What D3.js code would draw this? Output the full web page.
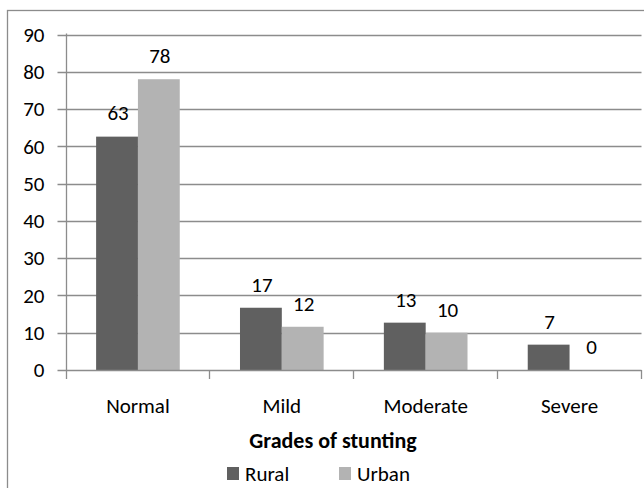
<!DOCTYPE html>
<html>
<head>
<meta charset="utf-8">
<script src="https://cdn.jsdelivr.net/npm/d3@7"></script>
<style>
  html, body { margin: 0; padding: 0; background: #fff; }
  svg { display: block; }
  text { font-family: Carlito, Calibri, Lato, sans-serif; fill: #000; }
</style>
</head>
<body>
<svg id="chart" width="644" height="488"></svg>
<script>
const categories = ["Normal", "Mild", "Moderate", "Severe"];
const seriesNames = ["Rural", "Urban"];
const ruralValues = [62.6, 16.7, 12.7, 6.8];
const urbanValues = [78, 11.6, 10, 0];
const ruralLabels = ["63", "17", "13", "7"];
const urbanLabels = ["78", "12", "10", "0"];
const yTicks = [0, 10, 20, 30, 40, 50, 60, 70, 80, 90];
const xTitle = "Grades of stunting";
const colors = { Rural: "#606060", Urban: "#b3b3b3" };

(function () {
const svg = d3.select("#chart");
const mLeft = 66, mRight = 641.5, mTop = 34.5, mBottom = 370;
const fs = 21;

// frame
svg.append("rect").attr("x", 7.5).attr("y", 10.5).attr("width", 700).attr("height", 600)
  .attr("fill", "none").attr("stroke", "#8c8c8c").attr("stroke-width", 1.3);

const y = d3.scaleLinear().domain([0, 90]).range([mBottom, mTop]);
const x0 = d3.scaleBand().domain(categories).range([mLeft, mRight]).padding(0);
const x1 = d3.scaleBand().domain(seriesNames).range([0, x0.bandwidth()]).paddingInner(0).paddingOuter(0.72);

// gridlines (with y-axis tick stubs)
svg.append("g").selectAll("line").data(yTicks.filter(t => t > 0)).join("line")
  .attr("x1", mLeft - 8.5).attr("x2", mRight)
  .attr("y1", d => Math.round(y(d)) + 0.5).attr("y2", d => Math.round(y(d)) + 0.5)
  .attr("stroke", "#8c8c8c").attr("stroke-width", 1.3);

// y axis via d3
const yAxis = d3.axisLeft(y).tickValues(yTicks).tickSize(0).tickPadding(22);
const gy = svg.append("g").attr("transform", `translate(${mLeft + 0.5},0)`).call(yAxis);
gy.select(".domain").remove();
gy.selectAll("text").attr("font-size", fs).attr("fill", "#000")
  .style("font-family", "Carlito, Calibri, Lato, sans-serif");

// bars
const data = categories.map((c, i) => ({
  cat: c,
  vals: [
    { s: "Rural", v: ruralValues[i], lab: ruralLabels[i] },
    { s: "Urban", v: urbanValues[i], lab: urbanLabels[i] }
  ]
}));
const groups = svg.append("g").selectAll("g").data(data).join("g")
  .attr("transform", d => `translate(${x0(d.cat)},0)`);
groups.selectAll("rect").data(d => d.vals).join("rect")
  .attr("x", d => x1(d.s)).attr("width", x1.bandwidth())
  .attr("y", d => y(d.v)).attr("height", d => mBottom - y(d.v))
  .attr("fill", d => colors[d.s]);
groups.selectAll("text").data(d => d.vals).join("text")
  .attr("x", d => x1(d.s) + x1.bandwidth() / 2 + 1)
  .attr("y", d => y(d.v) - 23.5)
  .attr("dy", "0.35em")
  .attr("text-anchor", "middle").attr("font-size", fs)
  .text(d => d.lab);

// y axis line
svg.append("line").attr("x1", mLeft + 0.5).attr("x2", mLeft + 0.5).attr("y1", mTop - 1).attr("y2", mBottom + 9)
  .attr("stroke", "#8c8c8c").attr("stroke-width", 1.3);
// x axis line
svg.append("line").attr("x1", mLeft - 8.5).attr("x2", mRight).attr("y1", mBottom + 0.5).attr("y2", mBottom + 0.5)
  .attr("stroke", "#8c8c8c").attr("stroke-width", 1.3);
// x category boundary ticks
const bounds = categories.map(c => x0(c) + x0.bandwidth());
svg.append("g").selectAll("line").data(bounds).join("line")
  .attr("x1", d => Math.round(d) - 0.5).attr("x2", d => Math.round(d) - 0.5)
  .attr("y1", mBottom).attr("y2", mBottom + 9)
  .attr("stroke", "#8c8c8c").attr("stroke-width", 1.3);

// category labels
svg.append("g").selectAll("text").data(categories).join("text")
  .attr("x", d => x0(d) + x0.bandwidth() / 2)
  .attr("y", 406).attr("dy", "0.35em")
  .attr("text-anchor", "middle").attr("font-size", fs)
  .text(d => d);

// axis title
svg.append("text").attr("x", 333).attr("y", 440).attr("dy", "0.35em")
  .attr("text-anchor", "middle").attr("font-size", 22).attr("font-weight", "bold")
  .text(xTitle);

// legend
const legendX = [227, 339];
const lg = svg.append("g").selectAll("g").data(seriesNames).join("g")
  .attr("transform", (d, i) => `translate(${legendX[i]},467)`);
lg.append("rect").attr("width", 12).attr("height", 13).attr("fill", d => colors[d]);
lg.append("text").attr("x", 18).attr("y", 6.5).attr("dy", "0.35em").attr("font-size", fs).text(d => d);
})();
</script>
</body>
</html>
